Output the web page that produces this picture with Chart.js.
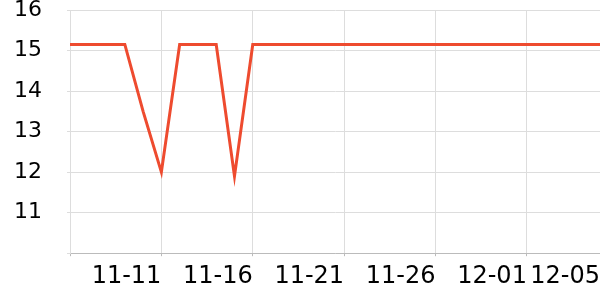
<!DOCTYPE html>
<html>
<head>
<meta charset="utf-8">
<script src="https://cdn.jsdelivr.net/npm/chart.js@4/dist/chart.umd.min.js"></script>
<style>
  html, body { margin: 0; padding: 0; background: #fff; }
  canvas { display: block; }
</style>
</head>
<body>
<canvas id="c" width="600" height="300"></canvas>
<script>
const categories = [
  '11-06','11-07','11-08','11-09','11-10','11-11','11-12','11-13','11-14','11-15',
  '11-16','11-17','11-18','11-19','11-20','11-21','11-22','11-23','11-24','11-25',
  '11-26','11-27','11-28','11-29','11-30','12-01','12-02','12-03','12-04','12-05'
];
const values = [
  15.15, 15.15, 15.15, 15.15, 13.5, 12.0, 15.15, 15.15, 15.15, 11.9,
  15.15, 15.15, 15.15, 15.15, 15.15, 15.15, 15.15, 15.15, 15.15, 15.15,
  15.15, 15.15, 15.15, 15.15, 15.15, 15.15, 15.15, 15.15, 15.15, 15.15
];
const shownTickLabels = ['11-11','11-16','11-21','11-26','12-01','12-05'];
const yTickValues = [11, 12, 13, 14, 15, 16];

new Chart(document.getElementById('c'), {
  type: 'line',
  data: {
    labels: categories,
    datasets: [{
      data: values,
      borderColor: '#ee4b2f',
      borderWidth: 3,
      pointRadius: 0,
      tension: 0,
      fill: false
    }]
  },
  options: {
    responsive: false,
    animation: false,
    devicePixelRatio: 1,
    layout: { padding: { left: 0, right: 0, top: 0, bottom: 3 } },
    plugins: { legend: { display: false }, tooltip: { enabled: false } },
    scales: {
      x: {
        type: 'category',
        offset: false,
        border: { color: '#bbbbbb', width: 1 },
        grid: { color: '#dddddd', tickLength: 3, tickColor: '#bbbbbb' },
        afterFit: s => { s.paddingLeft = 0; s.paddingRight = 0; },
        ticks: {
          autoSkip: false,
          maxRotation: 0,
          align: 'end',
          padding: 6,
          color: '#000',
          font: { family: 'DejaVu Sans', size: 24 },
          callback: function (v, i) {
            const lab = this.getLabelForValue(v);
            if (i === 0) return '';
            return shownTickLabels.includes(lab) ? lab : null;
          }
        }
      },
      y: {
        min: 10,
        max: 16,
        border: { color: '#dddddd', width: 1 },
        grid: { color: '#dddddd', tickLength: 3 },
        afterFit: s => { s.width = 70; s.paddingTop = 10; s.paddingBottom = 0; },
        ticks: {
          stepSize: 1,
          padding: 25,
          color: '#000',
          font: { family: 'DejaVu Sans', size: 22 },
          callback: v => yTickValues.includes(v) ? String(v) : ''
        }
      }
    }
  }
});
</script>
</body>
</html>
